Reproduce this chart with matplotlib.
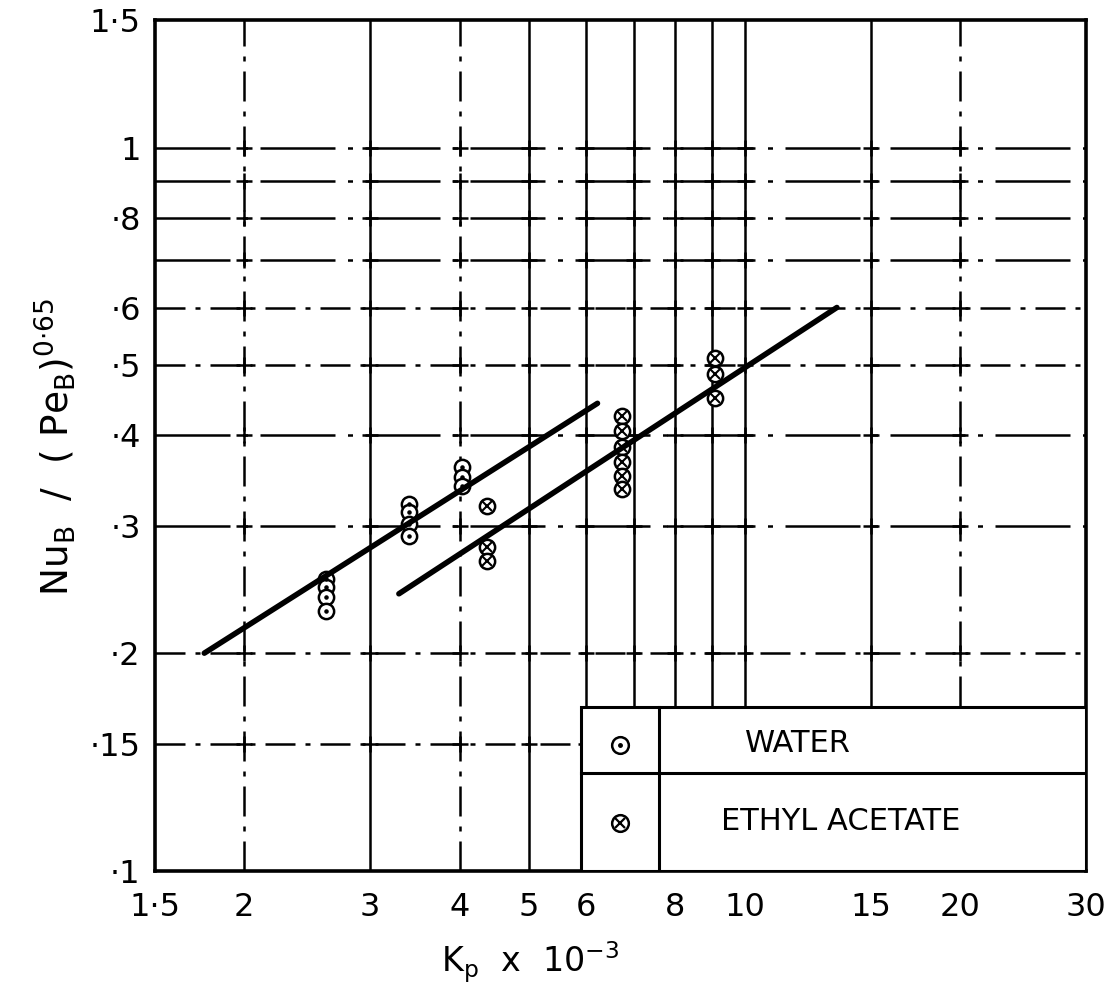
import numpy as np
import matplotlib
matplotlib.use("Agg")
import matplotlib.pyplot as plt
from matplotlib.patches import Rectangle
from matplotlib.ticker import FixedLocator, FixedFormatter, NullLocator

plt.rcParams['font.family'] = ['DejaVu Sans']
plt.rcParams['mathtext.fontset'] = 'dejavusans'

# Datos medidos: agua
water_kp = [2.60, 2.60, 2.60, 2.60, 3.40, 3.40, 3.40, 3.40, 4.03, 4.03, 4.03]
water_nu = [0.253, 0.247, 0.239, 0.229, 0.322, 0.313, 0.302, 0.290, 0.362, 0.350, 0.340]

# Datos medidos: acetato de etilo
ethyl_kp = [4.37, 4.37, 4.37, 6.73, 6.73, 6.73, 6.73, 6.73, 6.73, 9.08, 9.08, 9.08]
ethyl_nu = [0.319, 0.280, 0.268, 0.425, 0.405, 0.386, 0.368, 0.352, 0.337, 0.511, 0.487, 0.451]

# Rectas de ajuste (extremos)
water_fit_kp = [1.76, 6.23]
water_fit_nu = [0.200, 0.443]
ethyl_fit_kp = [3.29, 13.45]
ethyl_fit_nu = [0.2416, 0.601]

x_ticks = [1.5, 2, 3, 4, 5, 6, 8, 10, 15, 20, 30]
x_labels = ['1·5', '2', '3', '4', '5', '6', '8', '10', '15', '20', '30']
y_ticks = [0.1, 0.15, 0.2, 0.3, 0.4, 0.5, 0.6, 0.8, 1.0, 1.5]
y_labels = ['·1', '·15', '·2', '·3', '·4', '·5', '·6', '·8', '1', '1·5']

x_grid = [2, 3, 4, 5, 6, 7, 8, 9, 10, 15, 20]
y_grid = [0.15, 0.2, 0.3, 0.4, 0.5, 0.6, 0.7, 0.8, 0.9, 1.0]

fig = plt.figure(figsize=(11.12, 10.08), dpi=100)
ax = fig.add_axes([0.139, 0.136, 0.838, 0.844])
ax.set_xscale('log')
ax.set_yscale('log')
ax.set_xlim(1.5, 30)
ax.set_ylim(0.1, 1.5)

# cuadricula: unas lineas continuas, otras de trazo y punto
dashdot = (12, 4, 2, 4)
longdash = (30, 5, 2, 5)
solid_x = [3, 5, 6, 7, 8, 9, 10, 15]
for xv in x_grid:
    if xv in solid_x:
        ax.axvline(xv, color='black', lw=1.8, zorder=1)
    else:
        ax.axvline(xv, color='black', lw=1.8, dashes=dashdot, zorder=1)
for yv in y_grid:
    if yv in (0.15, 0.2, 0.5, 0.6):
        ax.axhline(yv, color='black', lw=1.8, dashes=dashdot, zorder=1)
    else:
        ax.axhline(yv, color='black', lw=1.8, dashes=longdash, zorder=1)

# cruces en las intersecciones
gx, gy = np.meshgrid(x_grid, y_grid)
ax.plot(gx.ravel(), gy.ravel(), '+', color='black', ms=12, mew=1.8, zorder=2)

# puntos
ax.plot(water_kp, water_nu, 'o', ms=11, mfc='white', mec='black', mew=1.8, zorder=3)
ax.plot(water_kp, water_nu, '.', ms=4.5, color='black', zorder=4)
ax.plot(ethyl_kp, ethyl_nu, 'o', ms=11, mfc='white', mec='black', mew=1.8, zorder=3)
ax.plot(ethyl_kp, ethyl_nu, 'x', ms=7, color='black', mew=1.5, zorder=4)

# rectas
ax.plot(water_fit_kp, water_fit_nu, color='black', lw=4, solid_capstyle='round', zorder=5)
ax.plot(ethyl_fit_kp, ethyl_fit_nu, color='black', lw=4, solid_capstyle='round', zorder=5)

ax.xaxis.set_major_locator(FixedLocator(x_ticks))
ax.xaxis.set_major_formatter(FixedFormatter(x_labels))
ax.xaxis.set_minor_locator(NullLocator())
ax.yaxis.set_major_locator(FixedLocator(y_ticks))
ax.yaxis.set_major_formatter(FixedFormatter(y_labels))
ax.yaxis.set_minor_locator(NullLocator())
ax.tick_params(axis='x', direction='in', length=0, pad=15, labelsize=23)
ax.tick_params(axis='y', direction='in', length=0, pad=10, labelsize=23)
for s in ax.spines.values():
    s.set_linewidth(2.6)

# leyenda en forma de tabla
lx0, lx1, ly0, ly1 = 0.4576, 1.0, 0.0, 0.1927
ldiv_x, ldiv_y = 0.541, 0.115
ax.add_patch(Rectangle((lx0, ly0), lx1 - lx0, ly1 - ly0, transform=ax.transAxes,
                       facecolor='white', edgecolor='black', lw=2.2, zorder=6))
ax.plot([ldiv_x, ldiv_x], [ly0, ly1], color='black', lw=2.2, transform=ax.transAxes, zorder=7)
ax.plot([lx0, lx1], [ldiv_y, ldiv_y], color='black', lw=2.2, transform=ax.transAxes, zorder=7)
sym_x = 0.4995
ax.plot([sym_x], [0.148], 'o', ms=12, mfc='white', mec='black', mew=1.8, transform=ax.transAxes, zorder=8)
ax.plot([sym_x], [0.148], '.', ms=5, color='black', transform=ax.transAxes, zorder=9)
ax.plot([sym_x], [0.0564], 'o', ms=12, mfc='white', mec='black', mew=1.8, transform=ax.transAxes, zorder=8)
ax.plot([sym_x], [0.0564], 'x', ms=7.5, color='black', mew=1.6, transform=ax.transAxes, zorder=9)
ax.text(0.690, 0.150, 'WATER', transform=ax.transAxes, ha='center', va='center',
        fontsize=22, zorder=9)
ax.text(0.736, 0.058, 'ETHYL ACETATE', transform=ax.transAxes, ha='center', va='center',
        fontsize=22, zorder=9)

fig.text(0.050, 0.556, r'$\mathrm{Nu_B\ \ /\ \ (\ Pe_B)^{0{\cdot}65}}$', rotation=90,
         ha='center', va='center', fontsize=27)
fig.text(0.477, 0.045, r'$\mathrm{K_p\ \ x\ \ 10^{-3}}$', ha='center', va='center', fontsize=24)

fig.savefig('out.png', dpi=100)
